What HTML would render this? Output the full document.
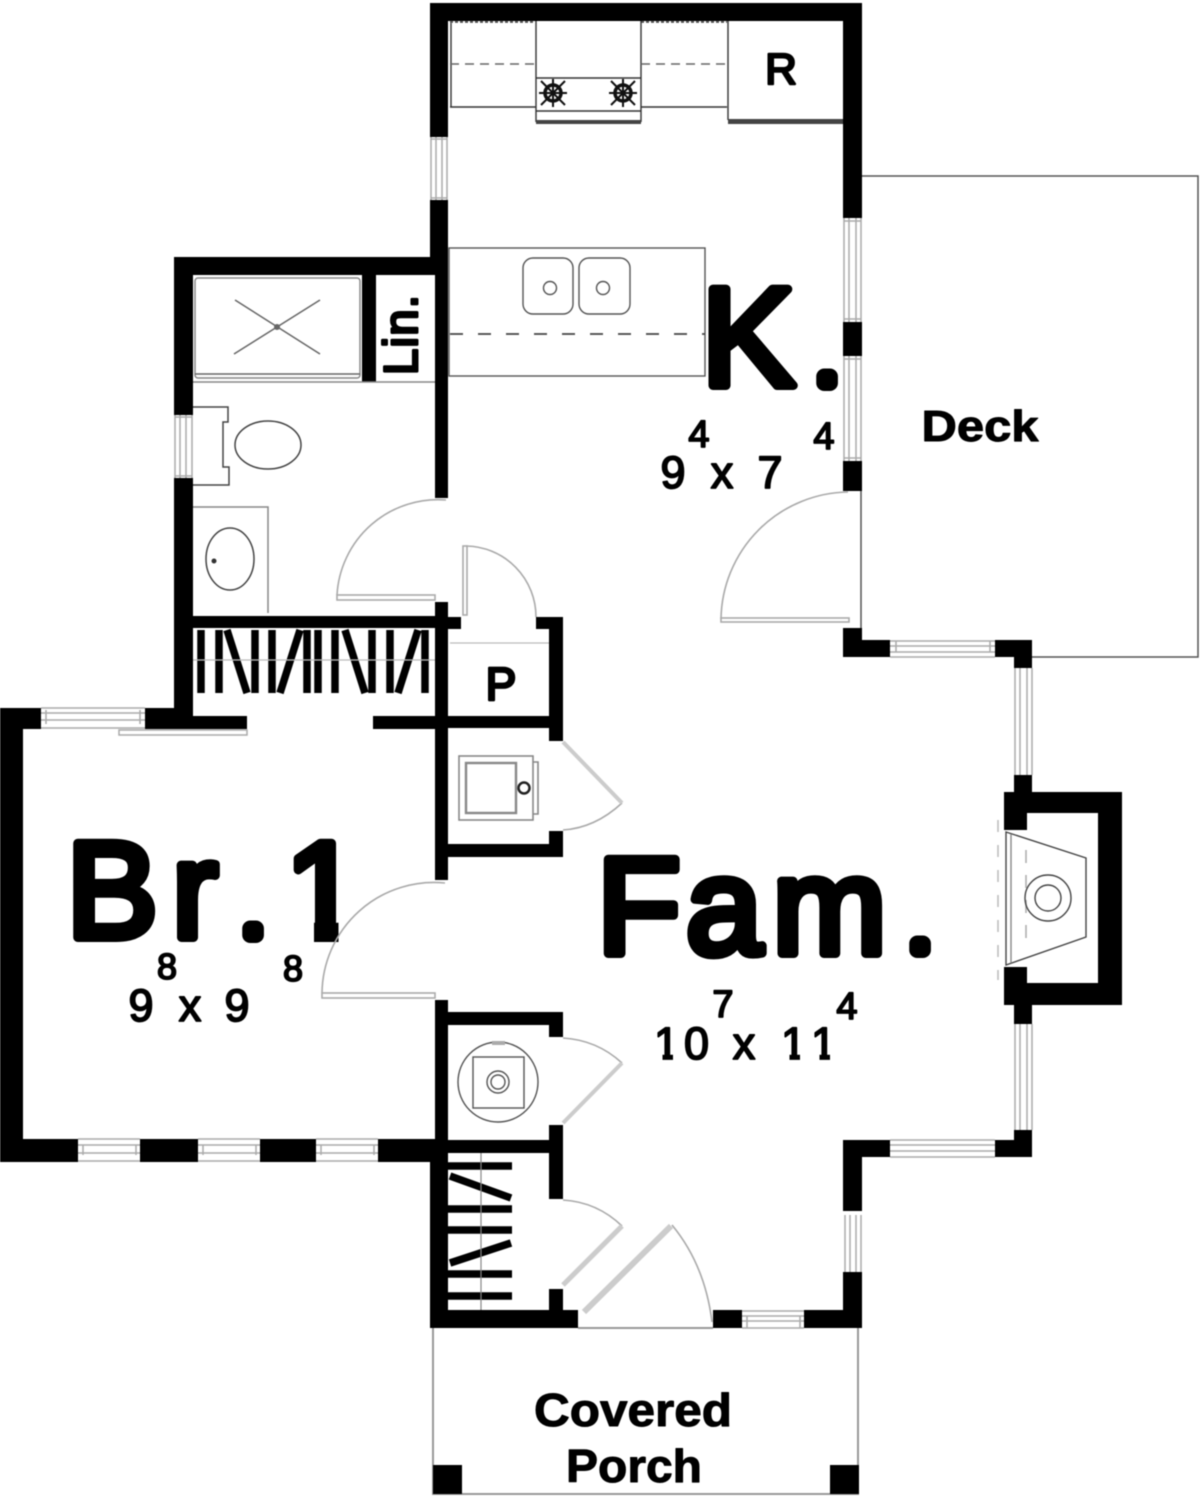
<!DOCTYPE html>
<html><head><meta charset="utf-8"><title>Floor plan</title>
<style>html,body{margin:0;padding:0;background:#fff;width:1200px;height:1497px;overflow:hidden}svg{display:block;filter:blur(.45px)}
text{font-family:"Liberation Sans",sans-serif;fill:#000;stroke:#000;stroke-linejoin:round;stroke-linecap:round}</style></head>
<body>
<svg width="1200" height="1497" viewBox="0 0 1200 1497" xmlns="http://www.w3.org/2000/svg">
<rect width="1200" height="1497" fill="#fff"/>
<!-- big labels -->
<g font-size="137" stroke-width="9">
<text y="385.5" font-size="140"><tspan x="701.5">K</tspan><tspan x="818.7" y="383" font-size="60" stroke-width="16">.</tspan></text>
<text y="937.500"><tspan x="66.5 172" y="937.5">Br</tspan><tspan x="244.7" y="935" font-size="60" stroke-width="16">.</tspan><tspan x="285" y="937.5">1</tspan></text>
<text y="953.5"><tspan x="597 686 772.5" y="953.5">Fam</tspan><tspan x="911.7" y="950" font-size="60" stroke-width="16">.</tspan></text>
</g>
<rect x="270" y="920" width="44" height="28" fill="#fff"/>
<rect x="338.500" y="920" width="26" height="28" fill="#fff"/>
<!-- deck and porch -->
<path d="M862 176H1198V657H1032M861 491V640" fill="none" stroke="#555" stroke-width="1.5"/>
<path d="M433 1328V1494H858V1328M578 1328H713" fill="none" stroke="#999" stroke-width="2"/>
<rect x="433" y="1465" width="29" height="29"/><rect x="830" y="1465" width="29" height="29"/>
<!-- windows -->
<g fill="#fff" stroke="#aaa" stroke-width="1.5">
<path d="M431 137V200M436 137V200M442 137V200M447 137V200M431 139H447M431 198H447"/>
<path d="M844 218V322M849 218V322M856 218V322M861 218V322M844 221H861M844 319H861"/>
<path d="M844 356V461M849 356V461M856 356V461M861 356V461M844 359H861M844 458H861"/>
<path d="M890 641H995M890 646H995M890 652H995M890 657H995M896 641V652M990 641V652"/>
<path d="M1015 668V775M1020 668V775M1027 668V775M1032 668V775"/>
<path d="M1015 1024V1130M1020 1024V1130M1027 1024V1130M1032 1024V1130"/>
<path d="M890 1140H995M890 1145H995M890 1151H995M890 1157H995"/>
<path d="M845 1215V1272M850 1215V1272M856 1215V1272M861 1215V1272"/>
<path d="M742 1311H804M742 1316H804M742 1321H804M742 1328H804M747 1316V1328M800 1316V1328"/>
<path d="M175 415V478M180 415V478M186 415V478M192 415V478M175 417H192M175 476H192"/>
<path d="M41 708H145M41 713H145M41 720H145M41 728H145M46 710V724M140 710V724"/>
<path d="M78 1139H140M78 1145H140M78 1153H140M78 1161H140M83 1145V1155M136 1145V1155"/>
<path d="M198 1139H260M198 1145H260M198 1153H260M198 1161H260M203 1145V1155M256 1145V1155"/>
<path d="M316 1139H378M316 1145H378M316 1153H378M316 1161H378M321 1145V1155M374 1145V1155"/>
<rect x="119" y="730" width="128" height="5"/>
</g>
<!-- walls -->
<g fill="#000">
<rect x="430" y="3" width="432" height="18"/>
<rect x="430" y="3" width="18" height="134"/>
<rect x="430" y="200" width="18" height="75"/>
<rect x="435" y="258" width="13" height="240"/>
<rect x="843" y="3" width="19" height="215"/>
<rect x="843" y="322" width="19" height="34"/>
<rect x="843" y="461" width="19" height="30"/>
<rect x="843" y="628" width="19" height="29"/>
<rect x="843" y="640" width="47" height="17"/>
<rect x="995" y="640" width="37" height="17"/>
<rect x="1014" y="640" width="18" height="28"/>
<rect x="1014" y="775" width="18" height="30"/>
<path d="M1004 792H1122V1005H1004V967H1027V983H1098V813H1027V830H1004Z"/>
<rect x="1014" y="1000" width="18" height="24"/>
<rect x="1014" y="1130" width="18" height="27"/>
<rect x="995" y="1140" width="37" height="17"/>
<rect x="843" y="1140" width="47" height="17"/>
<rect x="843" y="1140" width="19" height="71"/>
<rect x="843" y="1272" width="19" height="56"/>
<rect x="804" y="1310" width="58" height="18"/>
<rect x="713" y="1310" width="29" height="18"/>
<rect x="430" y="1310" width="148" height="18"/>
<rect x="430" y="1153" width="18" height="175"/>
<rect x="174" y="257" width="274" height="18"/>
<rect x="174" y="257" width="19" height="158"/>
<rect x="174" y="478" width="19" height="251"/>
<rect x="362" y="275" width="14" height="107"/>
<rect x="193" y="616" width="255" height="12"/>
<rect x="435" y="602" width="13" height="278"/>
<rect x="448" y="617" width="13" height="12"/>
<rect x="536" y="617" width="27" height="12"/>
<rect x="549" y="617" width="14" height="124"/>
<rect x="435" y="716" width="114" height="12"/>
<rect x="373" y="716" width="62" height="13"/>
<rect x="175" y="716" width="72" height="13"/>
<rect x="145" y="708" width="48" height="21"/>
<rect x="0" y="708" width="41" height="21"/>
<rect x="0" y="708" width="23" height="454"/>
<rect x="0" y="1139" width="78" height="23"/>
<rect x="140" y="1139" width="58" height="23"/>
<rect x="260" y="1139" width="56" height="23"/>
<rect x="378" y="1139" width="70" height="23"/>
<rect x="448" y="844" width="115" height="13"/>
<rect x="549" y="831" width="14" height="26"/>
<rect x="435" y="1000" width="13" height="153"/>
<rect x="448" y="1012" width="115" height="13"/>
<rect x="549" y="1012" width="14" height="25"/>
<rect x="435" y="1140" width="128" height="13"/>
<rect x="549" y="1125" width="14" height="74"/>
<rect x="549" y="1289" width="14" height="25"/>
</g>
<!-- closet rods -->
<g stroke="#000" stroke-width="7.5" fill="none">
<path d="M201 630V693M219 630V693M227 630L247 693M255 630V693"/>
<path d="M300 630L280 693M272 693V630M307 630V693M318 630V693M335 630V693M345 630L365 693M372 630V693M390 630V693M418 630L398 693M425 630V693"/>
<path d="M448 1166H512M450 1176L511 1198M448 1209H512M448 1230H512M450 1263L511 1243M448 1274H512M448 1296H512"/>
</g>
<path d="M193 660H435M450 643H549" stroke="#bbb" stroke-width="1.3" fill="none"/>
<path d="M481 1153V1310" stroke="#888" stroke-width="1.2" fill="none"/>
<!-- doors -->
<g fill="#fff" stroke="#aaa" stroke-width="1.6">
<path d="M337 595A101 101 0 0 1 446 500" fill="none"/>
<rect x="337" y="595" width="98" height="5"/>
<path d="M466 546A71 71 0 0 1 536 617" fill="none"/>
<rect x="463" y="546" width="4" height="69"/>
<path d="M721 619A129 129 0 0 1 848 492" fill="none"/>
<rect x="721" y="618" width="128" height="4"/>
<path d="M322 993A112 112 0 0 1 445 883" fill="none"/>
<rect x="322" y="993" width="113" height="5"/>
<path d="M622 803Q595 828 563 830" fill="none"/>
<path d="M622 1063Q597 1040 563 1038" fill="none"/>
<path d="M622 1226Q597 1202 563 1200" fill="none"/>
<path d="M672 1225Q705 1265 712 1322" fill="none"/>
</g>
<g fill="none" stroke="#ccc" stroke-linecap="butt">
<path d="M563 742L622 803" stroke-width="4"/>
<path d="M622 1063L563 1123" stroke-width="4"/>
<path d="M622 1226L563 1285" stroke-width="5"/>
<path d="M671 1226L584 1312" stroke-width="6"/>
</g>
<!-- kitchen -->
<g fill="none" stroke="#333" stroke-width="1.4">
<path d="M450 107H536M641 107H727"/>
<path d="M451 23V107M728 21V120M536 21V122M641 21V122M536 78H641M536 111H641"/>
<path d="M450 22H535M641 22H727" stroke-dasharray="3 2" stroke-width="1.6"/>
<path d="M450 64H535M641 64H727" stroke-dasharray="9 6" stroke="#666"/>
<rect x="449" y="248" width="256" height="128" stroke="#555"/>
<path d="M450 334H705" stroke-dasharray="13 15" stroke="#444" stroke-width="1.8"/>
<rect x="523" y="258" width="50" height="56" rx="10" stroke="#555"/>
<rect x="579" y="258" width="51" height="56" rx="10" stroke="#555"/>
<circle cx="550" cy="288" r="6.5" stroke="#555"/><circle cx="603" cy="288" r="6.5" stroke="#555"/>
</g>
<rect x="536" y="120" width="105" height="4" fill="#444"/>
<rect x="728" y="119" width="115" height="5" fill="#444"/>
<g fill="none" stroke="#111" stroke-width="3.5">
<circle cx="553" cy="93" r="8"/><circle cx="623" cy="93" r="8"/>
<path d="M541 81L565 105M565 81L541 105M553 79V107M539 93H567M611 81L635 105M635 81L611 105M623 79V107M609 93H637" stroke-width="2"/>
</g>
<!-- bath -->
<g fill="none" stroke="#444" stroke-width="1.5">
<rect x="195" y="278" width="165" height="100" rx="3" stroke="#888"/>
<path d="M195 374H360" stroke="#666"/>
<path d="M235 300L320 354M320 300L234 354" stroke="#666"/>
<path d="M193 407H228V422H223V467H229V485H193" />
<ellipse cx="268" cy="445" rx="33" ry="24"/>
<path d="M193 507H268V613" stroke="#888"/>
<ellipse cx="230" cy="559" rx="24" ry="31"/>
<path d="M193 382H435" stroke="#888"/>
</g>
<circle cx="214" cy="561" r="2.5" fill="#333"/>
<circle cx="277" cy="327" r="3" fill="#666"/>
<!-- washer -->
<g fill="none" stroke="#888" stroke-width="1.6">
<rect x="459" y="756" width="74" height="64"/>
<rect x="466" y="763" width="50" height="50" stroke-width="2.4"/>
<path d="M533 762H538V814H533"/>
</g>
<circle cx="524" cy="788" r="5.5" fill="#fff" stroke="#222" stroke-width="2.5"/>
<!-- water heater -->
<g fill="none" stroke="#555" stroke-width="1.4">
<circle cx="498" cy="1082" r="40"/>
<rect x="473" y="1057" width="51" height="51"/>
<circle cx="498" cy="1082" r="11"/><circle cx="498" cy="1082" r="7"/>
</g>
<rect x="492" y="1041" width="13" height="4" fill="#aaa"/>
<!-- fireplace -->
<g fill="none" stroke="#444" stroke-width="1.4">
<path d="M1006 832L1086 858V937L1006 965Z"/>
<path d="M1011 834V963" stroke="#888"/>
<path d="M1026 850V950" stroke="#aaa" stroke-dasharray="13 12" stroke-width="1.5"/>
<path d="M998 820V980" stroke="#bbb" stroke-dasharray="12 13" stroke-width="1.5"/>
<circle cx="1048" cy="898" r="23"/><circle cx="1048" cy="898" r="13"/>
</g>
<!-- labels -->
<g stroke-width="1.8" text-anchor="middle">
<text x="781" y="84" font-size="44" stroke-width="2.5">R</text>
<text x="501" y="700" font-size="46" stroke-width="2.8">P</text>
<text x="0" y="0" transform="translate(417 375) rotate(-90)" font-size="47" text-anchor="start" stroke-width="3" textLength="80" lengthAdjust="spacing">Lin.</text>
<text x="980" y="441" font-size="44" font-weight="700" stroke-width="1" textLength="117" lengthAdjust="spacingAndGlyphs">Deck</text>
<text x="633" y="1426" font-size="46" font-weight="700" stroke-width="1" textLength="198" lengthAdjust="spacingAndGlyphs">Covered</text>
<text x="634" y="1482" font-size="46" font-weight="700" stroke-width="1" textLength="136" lengthAdjust="spacingAndGlyphs">Porch</text>
<text x="699" y="447" font-size="38">4</text>
<text x="824" y="449" font-size="38">4</text>
<text x="673" y="488" font-size="45">9</text>
<text x="722" y="488" font-size="45">x</text>
<text x="770" y="488" font-size="45">7</text>
<text x="167" y="979" font-size="36">8</text>
<text x="293" y="981" font-size="36">8</text>
<text x="141" y="1021" font-size="45">9</text>
<text x="190" y="1021" font-size="45">x</text>
<text x="237" y="1021" font-size="45">9</text>
<text x="723" y="1017" font-size="38">7</text>
<text x="847" y="1019" font-size="38">4</text>
<text x="654 684" y="1059" font-size="45" text-anchor="start">10</text>
<text x="744" y="1059" font-size="45">x</text>
<text x="781 811" y="1059" font-size="45" text-anchor="start">11</text>
</g>
<g fill="#fff">
<rect x="648" y="1051" width="14.500" height="12"/><rect x="673" y="1051" width="9" height="12"/>
<rect x="775" y="1051" width="14.500" height="12"/><rect x="800" y="1051" width="19.500" height="12"/><rect x="830" y="1051" width="8" height="12"/>
</g>
</svg>
</body></html>
